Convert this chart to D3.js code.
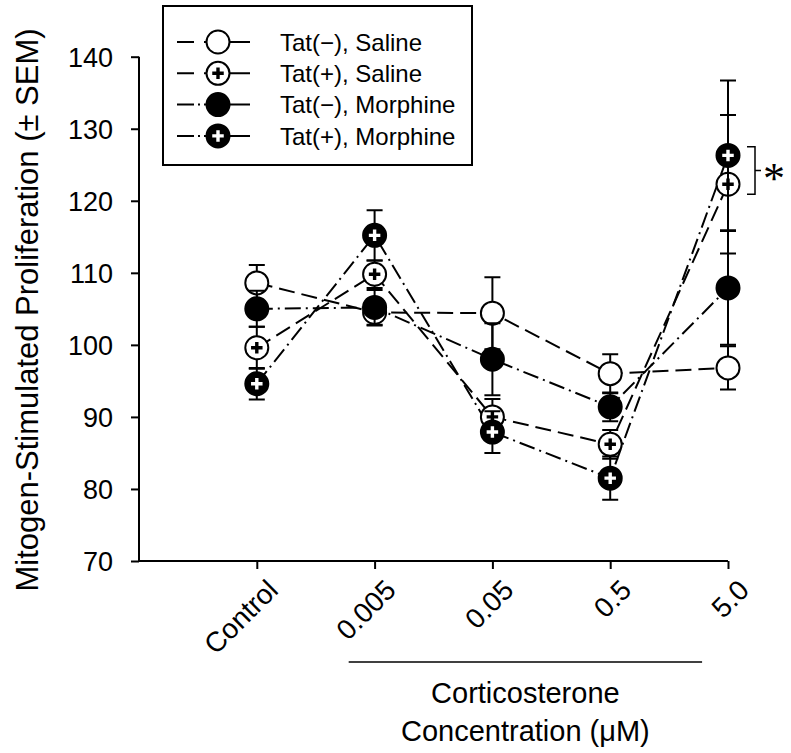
<!DOCTYPE html>
<html><head><meta charset="utf-8">
<script src="https://cdn.jsdelivr.net/npm/d3@7"></script>
<style>body{margin:0;background:#fff}svg{display:block}text{font-family:"Liberation Sans",Arial,sans-serif;fill:#000}</style>
</head><body><div id="chart"></div>
<script>
const categories = ["Control","0.005","0.05","0.5","5.0"];
const seriesNames = ["Tat(\u2212), Saline","Tat(+), Saline","Tat(\u2212), Morphine","Tat(+), Morphine"];
const tatMinusSaline   = [108.6, 104.5, 104.4, 96.0, 96.8];
const tatMinusSalineSem= [2.5, 1.8, 5.0, 2.7, 3.0];
const tatPlusSaline    = [99.6, 109.8, 90.0, 86.2, 122.3];
const tatPlusSalineSem = [2.9, 1.9, 2.5, 2.0, 9.6];
const tatMinusMorph    = [105.0, 105.2, 98.0, 91.4, 107.9];
const tatMinusMorphSem = [2.5, 2.4, 5.0, 2.0, 7.9];
const tatPlusMorph     = [94.6, 115.2, 87.9, 81.5, 126.3];
const tatPlusMorphSem  = [2.2, 3.5, 2.9, 3.0, 10.4];
const yTicks = [70,80,90,100,110,120,130,140];

const series = [
  {name:seriesNames[0], v:tatMinusSaline, e:tatMinusSalineSem, fill:"#fff", plus:null, dash:"16,7"},
  {name:seriesNames[1], v:tatPlusSaline, e:tatPlusSalineSem, fill:"#fff", plus:"#000", dash:"16,7"},
  {name:seriesNames[2], v:tatMinusMorph, e:tatMinusMorphSem, fill:"#000", plus:null, dash:"16,5,2,5"},
  {name:seriesNames[3], v:tatPlusMorph, e:tatPlusMorphSem, fill:"#000", plus:"#fff", dash:"16,5,2,5"}
];

const W=791,H=753;
const svg=d3.select("#chart").append("svg").attr("width",W).attr("height",H);
const x=d3.scaleLinear().domain([-1,4]).range([139,728]);
const y=d3.scaleLinear().domain([70,140]).range([561,56.7]);

// axes
const yAxis=svg.append("g").attr("transform","translate(139,0)")
  .call(d3.axisLeft(y).tickValues(yTicks).tickSize(8).tickSizeOuter(0).tickPadding(18));
yAxis.selectAll("text").style("font-size","27px").attr("dy","0.35em");
const xAxis=svg.append("g").attr("transform","translate(0,561)")
  .call(d3.axisBottom(x).tickValues([0,1,2,3,4]).tickFormat(i=>categories[i]).tickSize(8).tickSizeOuter(0));
xAxis.selectAll("text").remove();
svg.selectAll(".domain,.tick line").attr("stroke","#000").attr("stroke-width",2);
svg.selectAll(".tick text").attr("fill","#000");
xAxis.select(".domain").attr("d",`M139,0H728`);
yAxis.select(".domain").attr("d",`M0,${y(140)}V${y(70)+1}`);

categories.forEach((c,i)=>{
  svg.append("text").attr("transform",`translate(${x(i)+8},${577}) rotate(-45)`)
    .attr("text-anchor","end").attr("dy","0.75em").style("font-size","28px").text(c);
});

// axis titles
svg.append("text").attr("transform",`translate(38,310) rotate(-90)`).attr("text-anchor","middle")
  .style("font-size","31px").text("Mitogen-Stimulated Proliferation (\u00B1 SEM)");
svg.append("line").attr("x1",x(0.78)).attr("x2",x(3.78)).attr("y1",662).attr("y2",662).attr("stroke","#000").attr("stroke-width",1.5);
svg.append("text").attr("x",x(2.28)).attr("y",703).attr("text-anchor","middle").style("font-size","29px").text("Corticosterone");
svg.append("text").attr("x",x(2.28)).attr("y",741).attr("text-anchor","middle").style("font-size","29px").text("Concentration (\u03BCM)");

const idx=d3.range(categories.length);
const line=d3.line().x(i=>x(i));
series.forEach(s=>{
  svg.append("path").datum(idx).attr("d",line.y(i=>y(s.v[i]))).attr("fill","none")
    .attr("stroke","#000").attr("stroke-width",2).attr("stroke-dasharray",s.dash);
});
function marker(g,cx,cy,s,r){
  g.append("circle").attr("cx",cx).attr("cy",cy).attr("r",r).attr("fill",s.fill).attr("stroke","#000").attr("stroke-width",2);
  if(s.plus){
    const a=r*0.5;
    g.append("path").attr("d",`M${cx-a},${cy}H${cx+a}M${cx},${cy-a}V${cy+a}`).attr("stroke",s.plus).attr("stroke-width",3.4);
  }
}
series.forEach(s=>{
  const g=svg.append("g");
  idx.forEach(i=>{
    const cx=x(i), lo=y(s.v[i]-s.e[i]), hi=y(s.v[i]+s.e[i]);
    g.append("path").attr("d",`M${cx},${lo}V${hi}M${cx-8},${lo}H${cx+8}M${cx-8},${hi}H${cx+8}`)
      .attr("stroke","#000").attr("stroke-width",2).attr("fill","none");
  });
  idx.forEach(i=>marker(g,x(i),y(s.v[i]),s,11.5));
});

// significance bracket
const bx=x(4)+27, b1=y(127.5), b2=y(120.9);
svg.append("path").attr("d",`M${bx-8},${b1}H${bx}V${b2}H${bx-8}M${bx},${(b1+b2)/2}H${bx+6}`)
  .attr("fill","none").attr("stroke","#000").attr("stroke-width",1.5);
svg.append("text").attr("x",bx+19).attr("y",(b1+b2)/2+22).attr("text-anchor","middle")
  .style("font-family","'Liberation Serif',serif").style("font-size","44px").text("*");

// legend
const lg=svg.append("g");
lg.append("rect").attr("x",163).attr("y",6).attr("width",309).attr("height",159).attr("fill","#fff").attr("stroke","#000").attr("stroke-width",2);
series.forEach((s,k)=>{
  const ly=42+k*31.3;
  lg.append("path").attr("d",`M177,${ly}H250`).attr("stroke","#000").attr("stroke-width",2).attr("stroke-dasharray",k<2?"17,10,47":"17,4,2,4,47");
  marker(lg,218,ly,s,11.5);
  lg.append("text").attr("x",280).attr("y",ly).attr("dy","0.36em").style("font-size","24px").text(s.name);
});
</script></body></html>
